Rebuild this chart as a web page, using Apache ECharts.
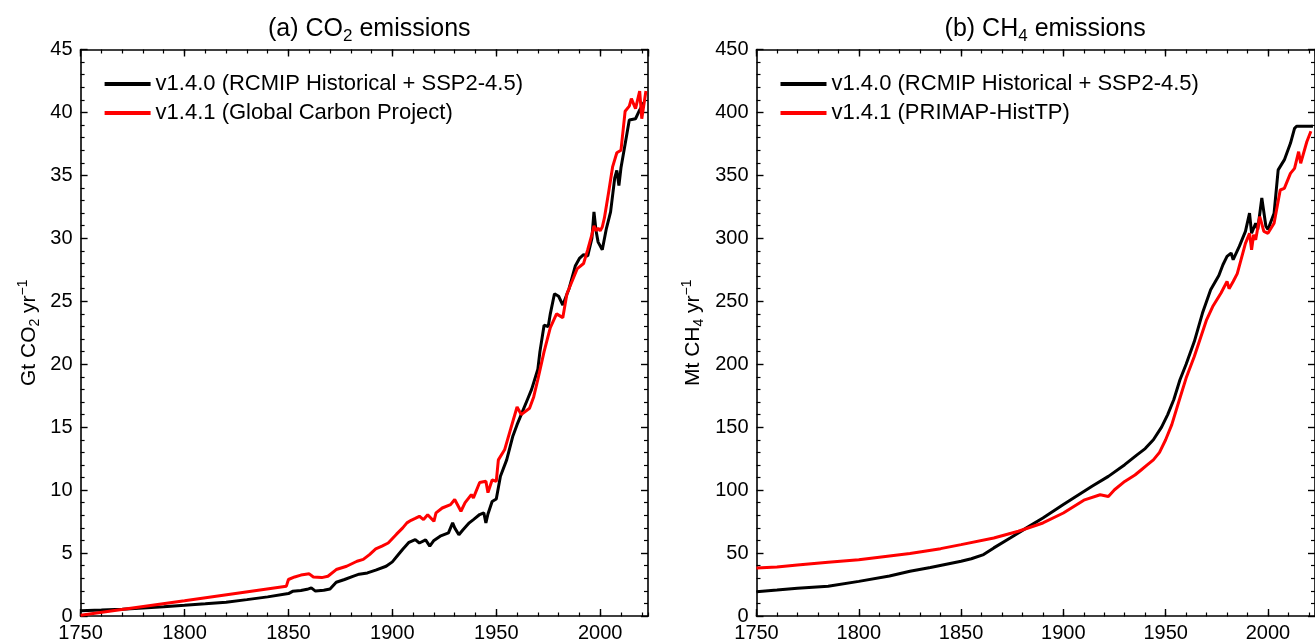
<!DOCTYPE html>
<html>
<head>
<meta charset="utf-8">
<script src="https://cdn.jsdelivr.net/npm/echarts@6/dist/echarts.min.js"></script>
<style>html,body{margin:0;padding:0;background:#fff}#c{width:1315px;height:643px}</style>
</head>
<body>
<div id="c"></div>
<script>
// ---------- data ----------
var co2HistYears = [1750,1760,1770,1780,1790,1800,1810,1820,1830,1840,1850,1852,1856,1859,1861,1863,1867,1870,1873,1877,1881,1884,1888,1892,1897,1900,1903,1905,1908,1911,1913,1916,1918,1920,1923,1927,1929,1930,1932,1934,1937,1939,1942,1944,1945,1946,1948,1950,1952,1955,1958,1960,1962,1965,1967,1970,1971,1973,1975,1976,1978,1980,1982,1985,1988,1990,1992,1994,1996,1997,1998,1999,2001,2003,2005,2007,2008,2009,2010,2012,2014,2017,2019,2021];
var co2HistValues = [0.42,0.47,0.54,0.64,0.74,0.85,0.97,1.10,1.30,1.52,1.78,1.96,2.02,2.12,2.23,1.98,2.04,2.14,2.68,2.90,3.15,3.32,3.42,3.65,3.95,4.30,4.90,5.30,5.85,6.07,5.80,6.05,5.55,6.00,6.34,6.60,7.40,7.00,6.45,6.85,7.40,7.66,8.06,8.20,7.40,8.10,9.10,9.30,11.1,12.4,14.3,15.2,16.0,17.2,18.0,19.6,21.0,23.1,23.0,24.0,25.6,25.4,24.7,26.0,27.8,28.4,28.7,28.6,30.0,32.1,30.6,29.7,29.1,30.8,32.1,34.8,35.4,34.2,35.6,37.5,39.4,39.5,40.2,40.8];

var co2GcpYears = [1750,1800,1849,1850,1853,1856,1860,1862,1866,1869,1873,1878,1883,1886,1889,1892,1895,1898,1902,1905,1907,1909,1911,1913,1915,1917,1920,1921,1924,1928,1930,1933,1935,1938,1939,1942,1945,1946,1948,1950,1951,1954,1957,1960,1962,1966,1968,1970,1973,1976,1979,1982,1984,1989,1992,1994,1996,1997,1998,1999,2000,2001,2002,2004,2006,2008,2010,2012,2014,2015,2017,2019,2020,2022];
var co2GcpValues = [0.06,1.22,2.37,2.90,3.10,3.25,3.35,3.10,3.05,3.16,3.69,3.95,4.35,4.50,4.88,5.33,5.55,5.80,6.50,7.00,7.40,7.60,7.75,7.92,7.66,8.05,7.52,8.19,8.58,8.85,9.25,8.32,9.00,9.64,9.38,10.6,10.7,9.80,10.8,10.7,12.4,13.2,14.9,16.6,16.0,16.5,17.4,18.8,21.0,22.9,24.0,23.7,25.6,27.6,28.0,29.1,30.3,31.0,30.6,30.8,30.6,30.9,31.6,33.6,35.7,36.8,37.0,40.1,40.5,41.1,40.3,41.7,39.5,41.7];

var ch4HistYears = [1750,1760,1770,1785,1800,1815,1825,1835,1850,1855,1861,1866,1874,1882,1890,1900,1914,1922,1930,1936,1940,1944,1948,1951,1954,1957,1960,1964,1968,1972,1976,1978,1980,1982,1983,1986,1989,1991,1992,1994,1995,1997,1999,2000,2003,2005,2008,2011,2013,2014,2022];
var ch4HistValues = [19.3,20.6,22.0,23.7,27.5,31.8,35.6,38.5,43.5,45.5,48.8,54.1,62.0,70.0,77.9,88.5,103.0,110.9,120.2,128.0,133.0,140.0,150.0,160.0,172.0,187.7,200.0,218.0,240.6,259.1,270.5,279.0,285.6,288.3,283.0,293.6,305.5,320.0,304.0,312.0,307.0,332.0,309.6,307.0,320.0,354.4,362.3,375.5,387.4,389.0,389.0];

var ch4PrimapYears = [1750,1760,1770,1785,1800,1825,1840,1850,1866,1878,1890,1900,1910,1918,1922,1925,1930,1935,1938,1941,1944,1947,1950,1953,1956,1960,1964,1970,1973,1977,1980,1981,1983,1985,1989,1991,1992,1993,1994,1996,1998,2000,2003,2006,2008,2011,2013,2015,2016,2019,2021];
var ch4PrimapValues = [38.2,39.0,40.5,42.7,44.6,49.6,53.5,56.7,62.0,67.3,73.9,81.8,92.0,96.3,95.0,100.3,106.9,112.0,116.0,120.0,124.0,130.0,140.0,152.0,168.0,189.0,206.2,235.3,245.8,256.4,265.7,260.0,265.7,272.0,296.0,304.0,290.8,302.8,298.8,317.3,305.5,304.0,312.0,338.4,339.7,351.6,355.6,368.8,359.6,376.7,385.0];

var xTickLabels = [1750,1800,1850,1900,1950,2000];
var co2Ticks = [0,5,10,15,20,25,30,35,40,45];
var ch4Ticks = [0,50,100,150,200,250,300,350,400,450];

var nameHist = 'v1.4.0 (RCMIP Historical + SSP2-4.5)';
var nameGcp = 'v1.4.1 (Global Carbon Project)';
var namePrimap = 'v1.4.1 (PRIMAP-HistTP)';
var titleA = ['(a) CO', '2', ' emissions'];
var titleB = ['(b) CH', '4', ' emissions'];
var ylabA = ['Gt CO', '2', ' yr', '\u22121'];
var ylabB = ['Mt CH', '4', ' yr', '\u22121'];

// ---------- layout ----------
var FONT = 'Liberation Sans, Arial, sans-serif';
var XMIN = 1750, XMAX = 2023;
var TOP = 49.5, HEIGHT = 567;
var WIDTH = 567.4;
var LEFT_A = 80.6, LEFT_B = 756.5;

function zip(xs, ys){ return xs.map(function(x,i){ return [x, ys[i]]; }); }

var grids = [
  {left: LEFT_A, top: TOP, width: WIDTH, height: HEIGHT},
  {left: LEFT_A, top: TOP, width: WIDTH, height: HEIGHT},
  {left: LEFT_B, top: TOP, width: WIDTH, height: HEIGHT},
  {left: LEFT_B, top: TOP, width: WIDTH, height: HEIGHT}
];

var lineStyle = {color: '#000', width: 1.6};
function xMajor(grid, pos, labels){
  return {
    type: 'value', gridIndex: grid, position: pos, min: XMIN, max: XMAX, interval: 50,
    axisLine: {show: true, onZero: false, lineStyle: lineStyle},
    axisTick: {show: true, inside: true, length: 7, lineStyle: {color: '#000', width: 1.4}},
    minorTick: {show: false},
    splitLine: {show: false},
    axisLabel: {show: labels, margin: 7, color: '#000', fontFamily: FONT, fontSize: 20,
      showMaxLabel: false,
      formatter: function(v){ return xTickLabels.indexOf(v) >= 0 ? String(v) : ''; }}
  };
}
function xMinor(grid, pos){
  return {
    type: 'value', gridIndex: grid, position: pos, min: XMIN, max: XMAX, interval: 10,
    axisLine: {show: false, onZero: false},
    axisTick: {show: true, inside: true, length: 4, lineStyle: {color: '#000', width: 1.2}},
    splitLine: {show: false}, axisLabel: {show: false}
  };
}
function yAxisDef(grid, pos, max, interval, labels, nameParts, nameGap){
  var o = {
    type: 'value', gridIndex: grid, position: pos, min: 0, max: max, interval: interval,
    axisLine: {show: true, onZero: false, lineStyle: lineStyle},
    axisTick: {show: true, inside: true, length: 7, lineStyle: {color: '#000', width: 1.4}},
    minorTick: {show: true, splitNumber: 5, length: 4, lineStyle: {color: '#000', width: 1.2}},
    splitLine: {show: false},
    axisLabel: {show: labels, margin: 8, color: '#000', fontFamily: FONT, fontSize: 20}
  };
  if (nameParts) {
    o.name = '{t|' + nameParts[0] + '}{s|' + nameParts[1] + '}{t|' + nameParts[2] + '}{p|' + nameParts[3] + '}';
    o.nameLocation = 'middle';
    o.nameRotate = 90;
    o.nameGap = nameGap;
    o.nameTextStyle = {
      color: '#000', fontFamily: FONT, fontSize: 21,
      rich: {
        t: {fontFamily: FONT, fontSize: 21, lineHeight: 26, color: '#000'},
        s: {fontFamily: FONT, fontSize: 14, lineHeight: 14, verticalAlign: 'bottom', color: '#000'},
        p: {fontFamily: FONT, fontSize: 14, lineHeight: 14, verticalAlign: 'top', color: '#000'}
      }
    };
  }
  return o;
}
function hiddenY(grid, max){ return {type: 'value', gridIndex: grid, min: 0, max: max, show: false}; }

function titleDef(parts, cx){
  return {
    text: '{t|' + parts[0] + '}{s|' + parts[1] + '}{t|' + parts[2] + '}',
    left: cx, top: 9, textAlign: 'center',
    textStyle: {
      fontWeight: 'normal',
      rich: {
        t: {fontFamily: FONT, fontSize: 25, fontWeight: 'normal', lineHeight: 31, color: '#000'},
        s: {fontFamily: FONT, fontSize: 17, fontWeight: 'normal', lineHeight: 17, verticalAlign: 'bottom', color: '#000'}
      }
    }
  };
}

function legendDef(left, names){
  return {
    left: left, top: 68, orient: 'vertical', itemGap: 7,
    icon: 'rect', itemWidth: 46, itemHeight: 4,
    textStyle: {fontFamily: FONT, fontSize: 22, color: '#000'},
    data: names, selectedMode: false
  };
}

function lineSeries(name, color, xi, yi, data){
  return {
    name: name, type: 'line', xAxisIndex: xi, yAxisIndex: yi, data: data,
    showSymbol: false, symbol: 'none', clip: true, animation: false,
    lineStyle: {color: color, width: 3}, itemStyle: {color: color},
    emphasis: {disabled: true}
  };
}

var option = {
  animation: false,
  backgroundColor: '#fff',
  title: [titleDef(titleA, LEFT_A + WIDTH / 2), titleDef(titleB, LEFT_B + WIDTH / 2)],
  legend: [legendDef(LEFT_A + 19, [nameHist, nameGcp]), legendDef(LEFT_B + 19, [nameHist, namePrimap])],
  grid: grids,
  xAxis: [
    xMajor(0, 'bottom', true), xMajor(0, 'top', false),
    xMinor(1, 'bottom'), xMinor(1, 'top'),
    xMajor(2, 'bottom', true), xMajor(2, 'top', false),
    xMinor(3, 'bottom'), xMinor(3, 'top')
  ],
  yAxis: [
    yAxisDef(0, 'left', co2Ticks[co2Ticks.length-1], co2Ticks[1]-co2Ticks[0], true, ylabA, 38),
    yAxisDef(0, 'right', co2Ticks[co2Ticks.length-1], co2Ticks[1]-co2Ticks[0], false, null),
    hiddenY(1, 45),
    yAxisDef(2, 'left', ch4Ticks[ch4Ticks.length-1], ch4Ticks[1]-ch4Ticks[0], true, ylabB, 50),
    yAxisDef(2, 'right', ch4Ticks[ch4Ticks.length-1], ch4Ticks[1]-ch4Ticks[0], false, null),
    hiddenY(3, 450)
  ],
  series: [
    lineSeries(nameHist, '#000000', 0, 0, zip(co2HistYears, co2HistValues)),
    lineSeries(nameGcp, '#ff0000', 0, 0, zip(co2GcpYears, co2GcpValues)),
    lineSeries(nameHist, '#000000', 4, 3, zip(ch4HistYears, ch4HistValues)),
    lineSeries(namePrimap, '#ff0000', 4, 3, zip(ch4PrimapYears, ch4PrimapValues))
  ]
};

var chart = echarts.init(document.getElementById('c'), null, {renderer: 'canvas'});
chart.setOption(option);
</script>
</body>
</html>
